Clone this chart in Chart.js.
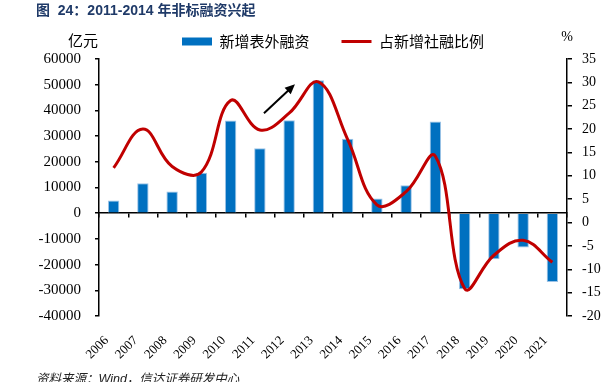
<!DOCTYPE html>
<html>
<head>
<meta charset="utf-8">
<script src="https://cdn.jsdelivr.net/npm/chart.js@4.4.1/dist/chart.umd.min.js"></script>
<style>
    body { margin: 0; background: #fff; }
    #wrap { position: relative; width: 601px; height: 382px; overflow: hidden; }
    #myChart { position: absolute; left: 0; top: 0; }
    .titulo { position: absolute; left: 36px; top: -1px; font: bold 14px "Liberation Sans", "Noto Sans CJK SC", sans-serif; color: #1F3A68; white-space: pre; }
    .fonte { position: absolute; left: 36px; top: 368px; font: italic 12.5px "Liberation Sans", "Noto Sans CJK SC", sans-serif; color: #222; white-space: pre; }
</style>
</head>
<body>
<div id="wrap">
    <canvas id="myChart" width="601" height="382"></canvas>
    <div class="titulo">图  24：2011-2014 年非标融资兴起</div>
    <div class="fonte">资料来源：Wind，信达证券研发中心</div>
</div>
<script>
// DADOS

var anos = ['2006', '2007', '2008', '2009', '2010', '2011', '2012', '2013',
    '2014', '2015', '2016', '2017', '2018', '2019', '2020', '2021'];

// 新增表外融资 (亿元)
var financiamento = [4900, 11700, 8400, 15700, 36100, 25300, 36200, 51700,
    29000, 5700, 10900, 35700, -29600, -17900, -13300, -26800];

// 占新增社融比例 (%)
var proporcao = [11.7, 20.0, 12.0, 10.8, 26.1, 19.8, 23.4, 30.1,
    17.8, 3.8, 6.6, 14.2, -14.1, -7.0, -3.8, -8.5];

var ticksEsquerda = [-40000, 60000, 10000];
var ticksDireita = [-20, 35, 5];

// seta (em coordenadas de dados: indice da categoria, valor do eixo esquerdo)
var setaInicio = [5.14, 38900];
var setaFim = [6.2, 50200];

var serif = '"Liberation Serif", "Times New Roman", serif';
var cjk = '"Noto Sans CJK SC", sans-serif';

// plugin para unidades e seta
var extras = {
    id: 'extras',
    afterDatasetsDraw: function (chart) {
        var ctx = chart.ctx;
        var x = chart.scales.x;
        var y = chart.scales.y;
        var area = chart.chartArea;

        // seta
        var x1 = x.getPixelForValue(setaInicio[0]), y1 = y.getPixelForValue(setaInicio[1]);
        var x2 = x.getPixelForValue(setaFim[0]), y2 = y.getPixelForValue(setaFim[1]);
        var ang = Math.atan2(y2 - y1, x2 - x1);
        ctx.save();
        ctx.strokeStyle = '#000';
        ctx.fillStyle = '#000';
        ctx.lineWidth = 2;
        ctx.beginPath();
        ctx.moveTo(x1, y1);
        ctx.lineTo(x2 - 7 * Math.cos(ang), y2 - 7 * Math.sin(ang));
        ctx.stroke();
        ctx.beginPath();
        ctx.moveTo(x2, y2);
        ctx.lineTo(x2 - 10 * Math.cos(ang) + 4.5 * Math.sin(ang), y2 - 10 * Math.sin(ang) - 4.5 * Math.cos(ang));
        ctx.lineTo(x2 - 10 * Math.cos(ang) - 4.5 * Math.sin(ang), y2 - 10 * Math.sin(ang) + 4.5 * Math.cos(ang));
        ctx.closePath();
        ctx.fill();

        // unidades
        ctx.font = '15px ' + cjk;
        ctx.textAlign = 'center';
        ctx.textBaseline = 'middle';
        ctx.fillText('亿元', area.left - 16, 40);
        ctx.font = '14px ' + serif;
        ctx.fillText('%', area.right, 37);
        ctx.restore();
    }
};

var config = {
    data: {
        labels: anos,
        datasets: [{
            type: 'bar',
            label: '新增表外融资',
            data: financiamento,
            backgroundColor: '#0070C0',
            borderColor: '#9DC3E6',
            borderWidth: 1,
            barPercentage: 0.78,
            categoryPercentage: 0.5,
            yAxisID: 'y',
            order: 1
        }, {
            type: 'line',
            label: '占新增社融比例',
            data: proporcao,
            borderColor: '#C00000',
            backgroundColor: '#C00000',
            borderWidth: 3,
            pointRadius: 0,
            tension: 0.4,
            yAxisID: 'y1',
            order: 0
        }]
    },
    options: {
        responsive: false,
        animation: false,
        devicePixelRatio: 1,
        layout: { padding: { left: 0, right: 0, top: 2, bottom: 0 } },
        plugins: {
            tooltip: { enabled: false },
            legend: {
                position: 'top',
                fullSize: false,
                labels: {
                    usePointStyle: true,
                    pointStyleWidth: 30,
                    boxHeight: 8,
                    padding: 32,
                    color: '#000',
                    font: { family: cjk, size: 15 },
                    generateLabels: function (chart) {
                        return chart.data.datasets.map(function (ds, i) {
                            var linha = ds.type === 'line';
                            return {
                                text: ds.label,
                                datasetIndex: i,
                                fillStyle: linha ? ds.borderColor : ds.backgroundColor,
                                strokeStyle: linha ? ds.borderColor : ds.backgroundColor,
                                lineWidth: linha ? 3 : 0,
                                pointStyle: linha ? 'line' : 'rect',
                                fontColor: '#000',
                                hidden: false
                            };
                        });
                    }
                }
            }
        },
        scales: {
            x: {
                type: 'category',
                position: 'bottom',
                offset: true,
                grid: { display: false },
                border: { display: false },
                ticks: {
                    color: '#000',
                    font: { family: serif, size: 13 },
                    minRotation: 45,
                    maxRotation: 45,
                    padding: 9,
                    labelOffset: -7,
                    autoSkip: false
                },
                afterFit: function (scale) { scale.height = 66; }
            },
            x2: {
                type: 'category',
                position: { y: 0 },
                offset: true,
                grid: { offset: true, drawOnChartArea: false, drawTicks: true, tickLength: 4, color: '#000', lineWidth: 1.5 },
                border: { display: true, color: '#000', width: 1.5 },
                ticks: { display: false }
            },
            y: {
                position: 'left',
                min: ticksEsquerda[0],
                max: ticksEsquerda[1],
                grid: { drawOnChartArea: false, drawTicks: true, tickLength: 4, color: '#000', lineWidth: 1.5 },
                border: { display: true, color: '#000', width: 1.5 },
                ticks: {
                    stepSize: ticksEsquerda[2],
                    color: '#000',
                    padding: 14,
                    font: { family: serif, size: 15 },
                    callback: function (v) { return String(v); }
                },
                afterFit: function (scale) { scale.width = 99; }
            },
            y1: {
                position: 'right',
                min: ticksDireita[0],
                max: ticksDireita[1],
                grid: { drawOnChartArea: false, drawTicks: true, tickLength: 5, color: '#000', lineWidth: 1.5 },
                border: { display: true, color: '#000', width: 1.5 },
                ticks: {
                    stepSize: ticksDireita[2],
                    color: '#000',
                    padding: 10,
                    font: { family: serif, size: 14 },
                    callback: function (v) { return String(v); }
                },
                afterFit: function (scale) { scale.width = 34; }
            }
        }
    },
    plugins: [extras]
};

var myChart = new Chart(document.getElementById('myChart'), config);
</script>
</body>
</html>
